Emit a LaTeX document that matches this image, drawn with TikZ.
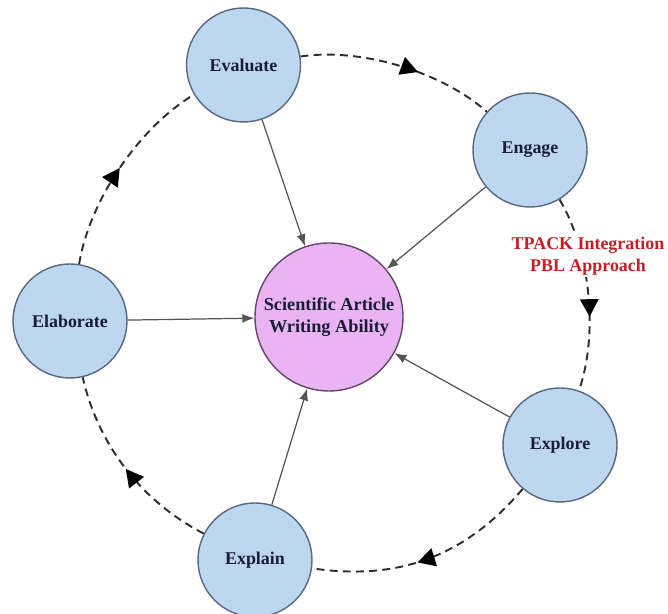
\documentclass[tikz,border=0pt]{standalone}
\usepackage{fontspec}
\setmainfont{Liberation Serif}
\usetikzlibrary{arrows.meta,decorations.markings}
\definecolor{phaseblue}{RGB}{189,215,240}
\definecolor{phaseline}{RGB}{88,104,128}
\definecolor{corepink}{RGB}{234,180,244}
\definecolor{coreline}{RGB}{100,70,105}
\definecolor{labelnavy}{RGB}{24,28,52}
\definecolor{feedgray}{RGB}{85,85,85}
\definecolor{loopgray}{RGB}{45,45,45}
\definecolor{tpackred}{RGB}{200,30,35}

\begin{document}
\begin{tikzpicture}[
		phase/.style={circle,draw=phaseline,fill=phaseblue,line width=0.8pt,minimum size=2.28cm,inner sep=0pt,font=\fontsize{10.2}{12.5}\bfseries,text=labelnavy},
		core/.style={circle,draw=coreline,fill=corepink,line width=0.8pt,minimum size=2.96cm,inner sep=0pt,align=center,font=\fontsize{10.4}{12.5}\bfseries,text=labelnavy},
		feed/.style={draw=feedgray,line width=0.7pt,-{Latex[length=2.4mm,width=1.8mm]}},
		loopline/.style={draw=loopgray,line width=1.1pt,dash pattern=on 4.5pt off 3pt,bend left=25,looseness=0.8,
			postaction={decorate},decoration={markings,mark=at position #1 with {\arrow[black]{Triangle[length=3.5mm,width=3.7mm]}}}},
		loopline/.default=0.5
	]
		\useasboundingbox (0,0) rectangle (13.36,12.28);
		\node[core] (ability) at (6.58,5.94) {Scientific Article\\Writing Ability};
		\node[phase] (evaluate) at (4.87,10.98) {Evaluate};
		\node[phase] (engage) at (10.6,9.28) {Engage};
		\node[phase] (explore) at (11.2,3.38) {Explore};
		\node[phase] (explain) at (5.1,1.08) {Explain};
		\node[phase] (elaborate) at (1.4,5.86) {Elaborate};
		\foreach \p in {evaluate,engage,explore,explain,elaborate}
			\draw[feed] (\p) -- (ability);
		\draw[loopline=0.6] (evaluate) to (engage);
		\draw[loopline=0.62] (engage) to (explore);
		\draw[loopline=0.55,bend left=29,looseness=1] (explore) to (explain);
		\draw[loopline,looseness=0.9] (explain) to (elaborate);
		\draw[loopline] (elaborate) to (evaluate);
		\node[font=\fontsize{10.2}{12.5}\bfseries,text=tpackred,fill=white,align=center,inner sep=1pt] (tpack) at (11.76,7.16) {TPACK Integration\\PBL Approach};
	\end{tikzpicture}
\end{document}
